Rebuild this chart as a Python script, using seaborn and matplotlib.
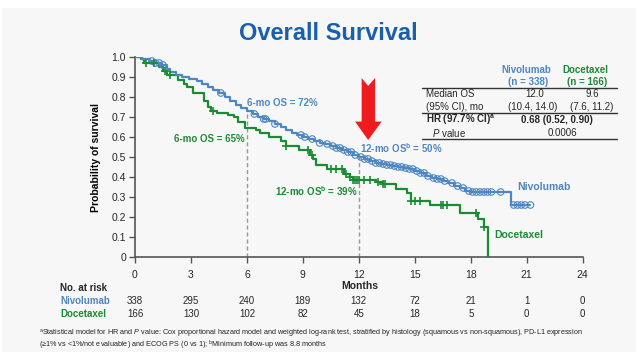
import numpy as np
import matplotlib
matplotlib.use("Agg")
import matplotlib.pyplot as plt
import matplotlib.transforms as mtransforms
from matplotlib.patches import Rectangle, Polygon
from matplotlib.lines import Line2D
import seaborn as sns

# -------- data --------
nivo_time = [0.0, 0.4, 0.8, 1.1, 1.4, 1.7, 1.9, 2.2, 2.5, 2.9, 3.3, 3.6, 3.9, 4.2, 4.5, 4.8,
             5.1, 5.4, 5.7, 6.0, 6.3, 6.6, 6.9, 7.2, 7.5, 7.8, 8.1, 8.4, 8.7, 9.0, 9.3, 9.6,
             9.9, 10.2, 10.5, 10.8, 11.1, 11.4, 11.7, 12.0, 12.3, 12.6, 12.9, 13.2, 13.5, 13.8,
             14.1, 14.4, 14.7, 15.0, 15.3, 15.6, 15.9, 16.2, 16.5, 16.8, 17.1, 17.4, 17.7, 18.0,
             20.15, 21.2]
nivo_surv = [1.00, 0.99, 0.98, 0.97, 0.96, 0.94, 0.925, 0.91, 0.90, 0.89, 0.88, 0.865, 0.85, 0.835, 0.82, 0.80,
             0.78, 0.76, 0.745, 0.73, 0.715, 0.70, 0.69, 0.68, 0.665, 0.65, 0.635, 0.62, 0.61, 0.60, 0.59, 0.58,
             0.57, 0.565, 0.555, 0.545, 0.535, 0.525, 0.51, 0.50, 0.49, 0.48, 0.47, 0.465, 0.46, 0.455,
             0.45, 0.445, 0.44, 0.43, 0.42, 0.405, 0.395, 0.39, 0.38, 0.37, 0.355, 0.345, 0.33, 0.325,
             0.26, 0.26]
nivo_censor = [0.9, 1.1, 1.3, 1.5, 4.6, 6.4, 6.9, 7.0, 7.5, 8.9, 9.1, 9.5, 9.9, 10.3, 10.6, 10.8,
               11.0, 11.2, 11.4, 11.6, 11.8, 12.1, 12.3, 12.5, 12.7, 12.9, 13.1, 13.3, 13.5, 13.7,
               13.9, 14.1, 14.3, 14.5, 14.7, 14.9, 15.1, 15.3, 15.5, 15.7, 16.0, 16.2, 16.4, 16.6,
               17.0, 17.3, 17.6, 17.9, 18.1, 18.3, 18.5, 18.7, 18.9, 19.1, 19.6, 20.3, 20.5, 20.7,
               20.9, 21.2]

doce_time = [0.0, 0.3, 0.5, 1.3, 1.5, 1.7, 2.3, 2.6, 2.8, 3.1, 3.7, 3.9, 4.1, 4.4, 5.0, 5.3,
             5.5, 5.9, 6.5, 6.7, 7.2, 7.8, 8.1, 8.8, 9.4, 9.55, 9.7, 10.3, 11.2, 11.5, 11.7, 12.9,
             13.3, 14.0, 14.6, 14.8, 15.8, 17.4, 18.4, 18.7, 18.95]
doce_surv = [1.00, 0.99, 0.97, 0.95, 0.93, 0.91, 0.885, 0.865, 0.85, 0.82, 0.78, 0.75, 0.73, 0.72, 0.71, 0.70,
             0.675, 0.645, 0.635, 0.62, 0.60, 0.58, 0.555, 0.535, 0.51, 0.49, 0.46, 0.44, 0.415, 0.40, 0.385, 0.375,
             0.365, 0.34, 0.32, 0.28, 0.26, 0.22, 0.19, 0.15, 0.0]
doce_censor = [0.6, 1.0, 1.6, 1.9, 4.2, 8.1, 9.3, 9.5, 10.5, 10.8, 11.1, 11.3, 11.5, 11.7, 11.8,
               11.9, 12.0, 12.3, 12.6, 13.0, 13.3, 13.4, 14.8, 15.0, 15.3, 16.4, 16.5, 16.7, 18.3, 18.7]

risk_months = [0, 3, 6, 9, 12, 15, 18, 21, 24]
nivo_risk = [338, 295, 240, 189, 132, 72, 21, 1, 0]
doce_risk = [166, 130, 102, 82, 45, 18, 5, 0, 0]

y_ticks = [0, 0.1, 0.2, 0.3, 0.4, 0.5, 0.6, 0.7, 0.8, 0.9, 1.0]
y_labels = ["0", "0.1", "0.2", "0.3", "0.4", "0.5", "0.6", "0.7", "0.8", "0.9", "1.0"]

BLUE = "#4e86c2"
GREEN = "#1b8a35"
TITLE_BLUE = "#1a5fad"
RED = "#ee1c1c"

sns.set_theme(style="white")
plt.rcParams["font.family"] = ["Liberation Sans", "DejaVu Sans"]
plt.rcParams["mathtext.fontset"] = "custom"
plt.rcParams["mathtext.rm"] = "Liberation Sans"
plt.rcParams["mathtext.it"] = "Liberation Sans:italic"
plt.rcParams["mathtext.bf"] = "Liberation Sans:bold"

W, H = 640, 360
fig = plt.figure(figsize=(6.4, 3.6), dpi=100, facecolor="white")


def fx(x):
    return x / W


def fy(y):
    return 1 - y / H


# slide background
fig.patches.append(Rectangle((fx(2), fy(352)), fx(634), 344 / H, transform=fig.transFigure,
                             facecolor="#f7f7f7", edgecolor="none", zorder=-5))

fig.text(fx(328), fy(34), "Overall Survival", ha="center", va="center",
         fontsize=17, fontweight="bold", color=TITLE_BLUE)

ax = fig.add_axes([fx(135), fy(257), (582.7 - 135) / W, 200 / H])
ax.set_facecolor("none")
ax.set_zorder(2)


def step_at(times, surv, t):
    idx = np.searchsorted(times, t, side="right") - 1
    return np.asarray(surv)[idx]


# guide lines at 6 and 12 months
for m in [6, 12]:
    ax.vlines(m, 0, step_at(nivo_time, nivo_surv, m), colors="#999999",
              linestyles=(0, (3, 2)), lw=1.0, zorder=1)

sns.lineplot(x=doce_time, y=doce_surv, drawstyle="steps-post", estimator=None, sort=False,
             color=GREEN, lw=1.6, ax=ax, zorder=3)
sns.lineplot(x=nivo_time, y=nivo_surv, drawstyle="steps-post", estimator=None, sort=False,
             color=BLUE, lw=1.6, ax=ax, zorder=4)

ax.scatter(nivo_censor, step_at(nivo_time, nivo_surv, nivo_censor), s=22, marker="o",
           facecolors="none", edgecolors=BLUE, linewidths=0.8, zorder=5)
ax.scatter(doce_censor, step_at(doce_time, doce_surv, doce_censor), s=30, marker="+",
           color=GREEN, linewidths=1.2, zorder=5)

ax.set_xlim(0, 24)
ax.set_ylim(0, 1.0)
ax.set_xticks(risk_months)
ax.set_yticks(y_ticks)
ax.set_yticklabels(y_labels)
ax.tick_params(axis="both", labelsize=7.5, length=4, width=1, color="#555555", pad=2.5,
               direction="out", bottom=True, left=True)
ax.tick_params(axis="x", pad=5)
for s in ["top", "right"]:
    ax.spines[s].set_visible(False)
for s in ["left", "bottom"]:
    ax.spines[s].set_color("#555555")
    ax.spines[s].set_linewidth(1.2)

fig.text(fx(96), fy(157), "Probability of survival", rotation=90, ha="center", va="center",
         fontsize=7.5, fontweight="bold", color="black")
fig.text(fx(360), fy(286), "Months", ha="center", va="center", fontsize=7.5, fontweight="bold")

# curve annotations
ax.text(6.0, 0.77, "6-mo OS = 72%", color=BLUE, fontsize=7, fontweight="bold", ha="left", va="center")
ax.text(5.9, 0.59, "6-mo OS = 65%", color=GREEN, fontsize=7, fontweight="bold", ha="right", va="center")
ax.text(12.05, 0.545, r"12-mo OS$^\mathbf{b}$ = 50%", color=BLUE, fontsize=7, fontweight="bold",
        ha="left", va="center")
ax.text(11.9, 0.33, r"12-mo OS$^\mathbf{b}$ = 39%", color=GREEN, fontsize=7, fontweight="bold",
        ha="right", va="center")
ax.text(20.5, 0.35, "Nivolumab", color=BLUE, fontsize=7.5, fontweight="bold", ha="left", va="center")
ax.text(19.25, 0.11, "Docetaxel", color=GREEN, fontsize=7.5, fontweight="bold", ha="left", va="center")

# red arrow pointing at 12 months
arrow_shape = [(12.15, 0.895), (12.5, 0.855), (12.87, 0.895), (12.87, 0.677), (13.22, 0.677),
               (12.5, 0.585), (11.8, 0.677), (12.15, 0.677)]
ax.add_patch(Polygon(arrow_shape, closed=True, facecolor=RED, edgecolor="none", zorder=6,
                     clip_on=False))

# summary table
tfs = 7
fig.text(fx(526), fy(70), "Nivolumab", color=BLUE, fontsize=tfs, fontweight="bold", ha="center", va="center")
fig.text(fx(528), fy(82), "(n = 338)", color=BLUE, fontsize=tfs, fontweight="bold", ha="center", va="center")
fig.text(fx(585), fy(70), "Docetaxel", color=GREEN, fontsize=tfs, fontweight="bold", ha="center", va="center")
fig.text(fx(587), fy(82), "(n = 166)", color=GREEN, fontsize=tfs, fontweight="bold", ha="center", va="center")
fig.text(fx(426), fy(94), "Median OS", fontsize=tfs, ha="left", va="center")
fig.text(fx(426), fy(107), "(95% CI), mo", fontsize=tfs, ha="left", va="center")
fig.text(fx(535), fy(94), "12.0", fontsize=tfs, ha="center", va="center")
fig.text(fx(533), fy(107), "(10.4, 14.0)", fontsize=tfs, ha="center", va="center")
fig.text(fx(592), fy(94), "9.6", fontsize=tfs, ha="center", va="center")
fig.text(fx(592), fy(107), "(7.6, 11.2)", fontsize=tfs, ha="center", va="center")
fig.text(fx(426), fy(120), r"HR (97.7% CI)$^\mathbf{a}$", fontsize=tfs, fontweight="bold", ha="left", va="center")
fig.text(fx(557), fy(120), "0.68 (0.52, 0.90)", fontsize=tfs, fontweight="bold", ha="center", va="center")
fig.text(fx(432), fy(133), r"$P$ value", fontsize=tfs, ha="left", va="center")
fig.text(fx(562), fy(133), "0.0006", fontsize=tfs, ha="center", va="center")
for yy in [87.5, 113, 139]:
    fig.lines.append(Line2D([fx(422), fx(617)], [fy(yy), fy(yy)], transform=fig.transFigure,
                            color="#333333", lw=1.0))

# number at risk
fig.text(fx(60), fy(288), "No. at risk", fontsize=7, fontweight="bold", ha="left", va="center")
fig.text(fx(60), fy(301), "Nivolumab", fontsize=7, fontweight="bold", color=BLUE, ha="left", va="center")
fig.text(fx(60), fy(314), "Docetaxel", fontsize=7, fontweight="bold", color=GREEN, ha="left", va="center")
blend = mtransforms.blended_transform_factory(ax.transData, fig.transFigure)
for m, n1, n2 in zip(risk_months, nivo_risk, doce_risk):
    ax.text(m, fy(301), str(n1), transform=blend, fontsize=7, ha="center", va="center", clip_on=False)
    ax.text(m, fy(314), str(n2), transform=blend, fontsize=7, ha="center", va="center", clip_on=False)

# footnote (one text block, two lines)
footnote = (r"$^\mathrm{a}$Statistical model for HR and $P$ value: Cox proportional hazard model and weighted "
            "log-rank test, stratified by histology (squamous vs non-squamous), PD-L1 expression\n"
            r"(≥1% vs <1%/not evaluable) and ECOG PS (0 vs 1); $^\mathrm{b}$Minimum follow-up was 8.8 months")
fig.text(fx(39), fy(340), footnote, fontsize=5.2, ha="left", va="center", color="#222222",
         linespacing=0.85)

fig.savefig("out.png", dpi=100, facecolor="white")
